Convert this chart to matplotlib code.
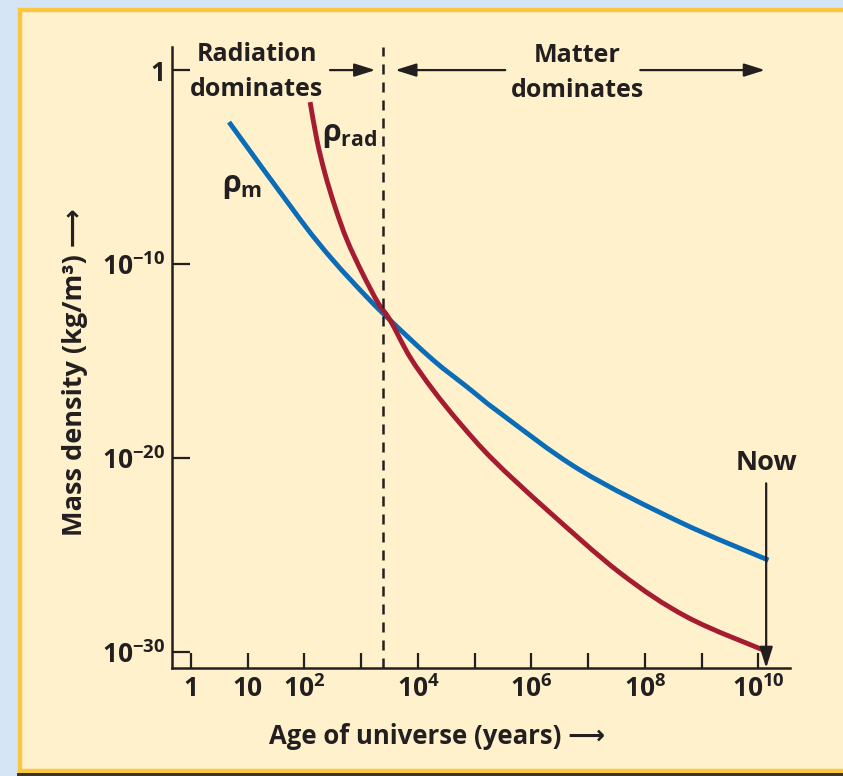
import numpy as np
import matplotlib
matplotlib.use("Agg")
import matplotlib.pyplot as plt
from matplotlib.patches import Rectangle, PathPatch
from matplotlib.path import Path

plt.rcParams['font.family'] = ['Open Sans', 'DejaVu Sans']
plt.rcParams['font.weight'] = 'bold'
plt.rcParams['mathtext.fontset'] = 'custom'
plt.rcParams['mathtext.rm'] = 'Open Sans:bold'
plt.rcParams['mathtext.it'] = 'Open Sans:bold'
plt.rcParams['mathtext.bf'] = 'Open Sans:bold'

# values: log10 of age (years) and of density (kg/m^3)
age_m_exp = [0.67, 1.92, 2.50, 3.10, 3.51, 4.27, 4.87, 5.45, 6.86, 8.62, 10.18]
rho_m_exp = [-2.68, -7.68, -9.79, -11.70, -12.89, -14.95, -16.34, -17.68, -20.62, -23.30, -25.26]
age_rad_exp = [2.10, 2.22, 2.36, 2.54, 2.75, 3.02, 3.30, 3.51, 3.86, 4.27, 4.74, 5.33,
               6.28, 7.57, 8.75, 10.18]
rho_rad_exp = [-1.65, -3.61, -5.31, -7.06, -8.76, -10.46, -12.01, -12.89, -14.79, -16.50,
               -18.20, -20.10, -22.68, -25.93, -28.20, -30.0]

x_tick_exp = [0, 1, 2, 3, 4, 5, 6, 7, 8, 9, 10]
x_label_map = {0: '1', 1: '10', 2: r'$10^{2}$', 4: r'$10^{4}$', 6: r'$10^{6}$',
               8: r'$10^{8}$', 10: r'$10^{10}$'}
y_tick_exp = [0, -10, -20, -30]
y_tick_labels = ['1', r'$10^{-10}$', r'$10^{-20}$', r'$10^{-30}$']

equality_age = 10 ** 3.39
now_age = 1.38e10

ink = '#231f20'
blue = '#0b6db7'
red = '#a51c30'


def smooth_curve(xe, ye):
    # catmull-rom through the read points (in log space), as bezier segments
    p = np.column_stack([xe, ye])
    verts = [p[0]]
    codes = [Path.MOVETO]
    for i in range(len(p) - 1):
        p0 = p[i - 1] if i > 0 else p[i]
        p3 = p[i + 2] if i + 2 < len(p) else p[i + 1]
        c1 = p[i] + (p[i + 1] - p0) / 6
        c2 = p[i + 1] - (p3 - p[i]) / 6
        verts += [c1, c2, p[i + 1]]
        codes += [Path.CURVE4] * 3
    return Path(10.0 ** np.array(verts), codes)


fig = plt.figure(figsize=(8.43, 7.76), dpi=100)
fig.patch.set_facecolor('#d5e5f5')

# cream panel with yellow frame
fig.patches.append(Rectangle((19.5 / 843, 5 / 776), 1.1, 761 / 776,
                             transform=fig.transFigure, facecolor='#fef1cb',
                             edgecolor='#fbc640', linewidth=3.2, zorder=-5))
fig.patches.append(Rectangle((17 / 843, 0), 1.1, 3 / 776,
                             transform=fig.transFigure, facecolor='#3a3430',
                             edgecolor='none', zorder=-4))

ax = fig.add_axes([172 / 843, 1 - 668 / 776, 618 / 843, 621 / 776])
ax.set_facecolor('none')
ax.set_xscale('log')
ax.set_yscale('log')
ax.set_xlim(10 ** -0.335, 10 ** 10.56)
ax.set_ylim(10 ** -30.82, 10 ** 1.19)

ax.add_patch(PathPatch(smooth_curve(age_m_exp, rho_m_exp), fill=False,
                       edgecolor=blue, lw=3.5, capstyle='butt'))
ax.add_patch(PathPatch(smooth_curve(age_rad_exp, rho_rad_exp), fill=False,
                       edgecolor=red, lw=3.5, capstyle='butt'))

ax.axvline(equality_age, color=ink, lw=1.8, linestyle=(0, (4, 3.2)))

for s in ['top', 'right']:
    ax.spines[s].set_visible(False)
for s in ['left', 'bottom']:
    ax.spines[s].set_linewidth(1.8)
    ax.spines[s].set_color(ink)

ax.set_xticks([10.0 ** e for e in x_tick_exp])
ax.set_xticklabels([x_label_map.get(e, '') for e in x_tick_exp])
ax.set_yticks([10.0 ** e for e in y_tick_exp])
ax.set_yticklabels(y_tick_labels)
ax.minorticks_off()
ax.tick_params(axis='x', direction='in', length=11, width=1.6, color=ink,
               labelsize=19, labelcolor=ink, pad=5)
ax.tick_params(axis='y', direction='in', length=13, width=1.6, color=ink,
               labelsize=19, labelcolor=ink, pad=5)

arrow_kw = dict(arrowstyle='-|>,head_width=0.22,head_length=0.7', lw=1.6, color=ink,
                shrinkA=0, shrinkB=0, mutation_scale=18)

ax.text(10 ** 1.16, 10 ** -0.1, 'Radiation\ndominates', ha='center', va='center',
        fontsize=18, color=ink, linespacing=1.55)
ax.annotate('', xy=(10 ** 3.25, 1), xytext=(10 ** 2.45, 1), arrowprops=arrow_kw)

ax.text(10 ** 6.81, 10 ** -0.15, 'Matter\ndominates', ha='center', va='center',
        fontsize=18, color=ink, linespacing=1.55)
ax.annotate('', xy=(10 ** 3.6, 1), xytext=(10 ** 5.54, 1), arrowprops=arrow_kw)
ax.annotate('', xy=(10 ** 10.12, 1), xytext=(10 ** 7.92, 1), arrowprops=arrow_kw)

ax.text(10 ** 2.80, 10 ** -3.35, r'$\rho_{\mathrm{rad}}$', ha='center', va='center',
        fontsize=22, color=ink)
ax.text(10 ** 0.90, 10 ** -5.98, r'$\rho_{\mathrm{m}}$', ha='center', va='center',
        fontsize=22, color=ink)

ax.text(now_age, 10 ** -20.26, 'Now', ha='center', va='center', fontsize=19.5, color=ink)
ax.annotate('', xy=(now_age, 10 ** -30.82), xytext=(now_age, 10 ** -21.3),
            arrowprops=arrow_kw, annotation_clip=False)

fig.text(437 / 843, 1 - 737 / 776, 'Age of universe (years) \u27f6', ha='center',
         va='center', fontsize=18.5, color=ink)
fig.text(75 / 843, 1 - 372 / 776, 'Mass density (kg/m\u00b3) \u27f6', ha='center',
         va='center', rotation=90, fontsize=19.5, color=ink)

fig.savefig('out.png', dpi=100, facecolor=fig.get_facecolor())
